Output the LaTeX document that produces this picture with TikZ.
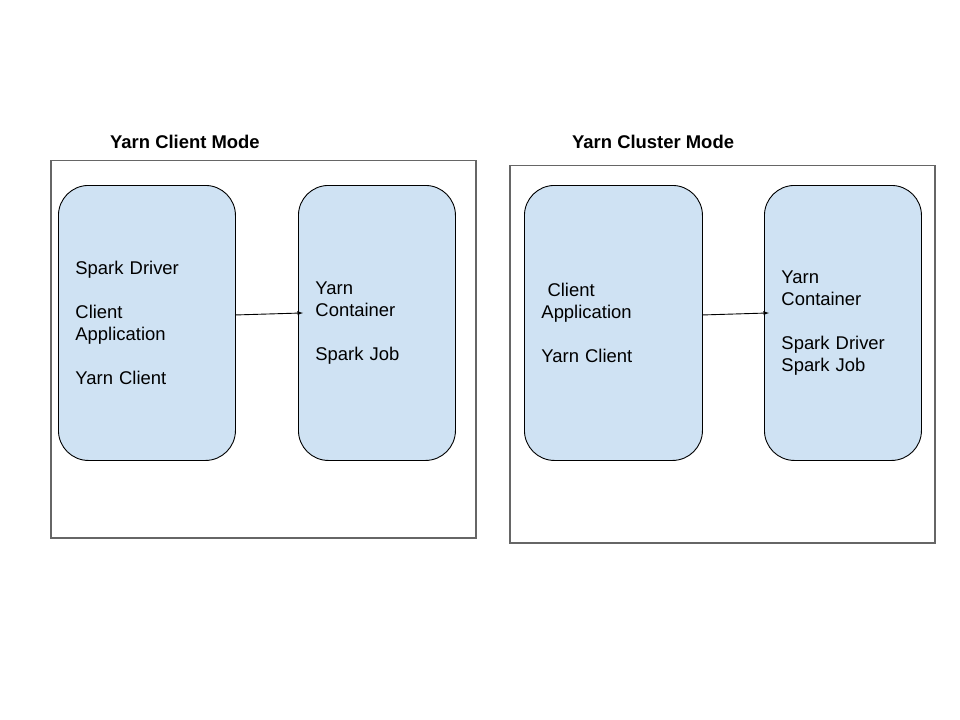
\documentclass[tikz,border=0pt]{standalone}
\usepackage{fontspec}
\setmainfont{Liberation Sans}
\usepackage{tikz}
\usetikzlibrary{arrows,positioning,calc}

\definecolor{boxblue}{HTML}{CFE2F3}
\definecolor{framegray}{HTML}{666666}

\tikzset{
  frame/.style={draw=framegray,line width=1.6bp},
  unit/.style={draw=black,fill=boxblue,line width=0.9bp,rounded corners=30bp,
    align=left,inner xsep=17bp,inner ysep=0pt,anchor=north west},
  title/.style={font=\fontsize{18.5}{22}\selectfont\bfseries,anchor=west,inner sep=0pt}
}

\begin{document}
\begin{tikzpicture}[>=latex,x=1bp,y=-1bp,font=\fontsize{18.5}{22}\selectfont]
        \useasboundingbox (0,0) rectangle (960,720);
        % client mode
        \draw [frame] (51,160.5) rectangle (476,538);
        \node [title] (climode) at (110,142) {Yarn Client Mode};
        \node [unit,text width=143bp,minimum height=275bp] (cliapp) at (58,185)
        {Spark Driver\\[22bp]Client\\Application\\[22bp]Yarn Client};
        \node [unit,text width=123bp,minimum height=275bp] (clicont) at (298,185)
        {Yarn\\Container\\[22bp]Spark Job};
        \coordinate (cliend) at ([xshift=5bp,yshift=10bp]clicont.west);
        \draw [->,line width=0.9bp] ([yshift=8bp]cliapp.east) -- (cliend);
        % cluster mode
        \draw [frame] (510,165.5) rectangle (935,543);
        \node [title] (clumode) at (572,142) {Yarn Cluster Mode};
        \node [unit,text width=144bp,minimum height=275bp] (cluapp) at (524,185)
        {\ Client\\Application\\[22bp]Yarn Client};
        \node [unit,text width=123bp,minimum height=275bp] (clucont) at (764,185)
        {Yarn\\Container\\[22bp]Spark Driver\\Spark Job};
        \coordinate (cluend) at ([xshift=5bp,yshift=10bp]clucont.west);
        \draw [->,line width=0.9bp] ([yshift=8bp]cluapp.east) -- (cluend);
\end{tikzpicture}
\end{document}
